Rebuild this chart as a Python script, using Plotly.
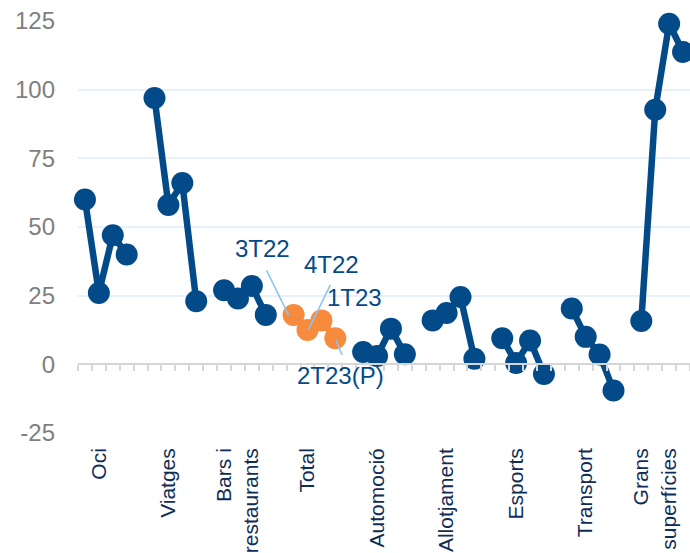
import plotly.graph_objects as go

# Sectors (x-axis groups) and the four quarters plotted within each group
categories = ["Oci", "Viatges", "Bars i<br>restaurants", "Total", "Automoció",
              "Allotjament", "Esports", "Transport", "Grans<br>superfícies"]
quarters = ["3T22", "4T22", "1T23", "2T23(P)"]

# Year-on-year change (%) per sector and quarter
oci = [60, 26, 47, 40]
viatges = [97, 58, 66, 23]
bars_restaurants = [27, 24, 28.5, 18]
total = [18, 12.5, 16, 9.5]
automocio = [4.5, 3, 13, 3.7]
allotjament = [16, 18.7, 24.5, 2]
esports = [9.5, 0.5, 8.7, -3.5]
transport = [20.3, 10, 3.6, -9.5]
grans_superficies = [15.8, 92.7, 124, 113.7]

series = [oci, viatges, bars_restaurants, total, automocio,
          allotjament, esports, transport, grans_superficies]

y_ticks = [-25, 0, 25, 50, 75, 100, 125]
y_tick_text = ["-25", "0", "25", "50", "75", "100", "125"]

BLUE = "#034a88"
ORANGE = "#f68a3d"
NAVY = "#0f2d56"
LEADER = "#8cc4f2"
GRID = "#e8f1fb"
FONT = "Liberation Sans, Arial, sans-serif"

group_size = len(quarters) + 1  # four quarters plus a blank slot between groups
n_slots = len(categories) * group_size - 1

fig = go.Figure()

for g, (name, vals) in enumerate(zip(categories, series)):
    xs = [g * group_size + q for q in range(len(quarters))]
    color = ORANGE if name == "Total" else BLUE
    fig.add_trace(go.Scatter(
        x=xs, y=vals, mode="lines+markers",
        line=dict(color=color, width=6.5),
        marker=dict(color=color, size=22),
        cliponaxis=False, showlegend=False,
        name=name.replace("<br>", " "),
        text=quarters, hovertemplate="%{text}: %{y}<extra></extra>",
    ))

# carrier trace for the zero-level category axis with its slot ticks
fig.add_trace(go.Scatter(x=[-0.5, n_slots - 0.5], y=[0, 0], xaxis="x2",
                         mode="lines", line=dict(width=0), hoverinfo="skip",
                         showlegend=False))

# quarter labels around the Total series
tot_idx = categories.index("Total")
tx = [tot_idx * group_size + q for q in range(len(quarters))]

leaders = [  # (tail x, tail y, head x, head y)
    (tx[0] - 2.0, total[0] + 16.8, tx[0] - 0.35, total[0] - 0.2),
    (tx[1] + 1.7, total[1] + 17.0, tx[1] + 0.05, total[1]),
    (tx[3], total[3], tx[3] + 0.48, total[3] - 6.1),
]
for x0, y0, x1, y1 in leaders:
    fig.add_annotation(x=x1, y=y1, ax=x0, ay=y0, xref="x", yref="y",
                       axref="x", ayref="y", text="", showarrow=True,
                       arrowhead=0, arrowwidth=1.6, arrowcolor=LEADER,
                       standoff=0, startstandoff=0)

label_pos = [(tx[0] - 2.2, 42.0), (tx[1] + 1.7, 36.5),
             (tx[2] + 2.4, 24.5), (tx[3] + 0.35, -3.9)]
for q, (lx, ly) in zip(quarters, label_pos):
    fig.add_annotation(x=lx, y=ly, text=q, showarrow=False,
                       font=dict(family=FONT, size=24, color=BLUE),
                       xanchor="center", yanchor="middle")

label_slots = [g * group_size + 1 for g in range(len(categories))]

fig.update_layout(
    width=690, height=553,
    margin=dict(l=78, r=0, t=21, b=120),
    paper_bgcolor="white", plot_bgcolor="white",
    font=dict(family=FONT),
    xaxis=dict(range=[-0.5, n_slots - 0.5], showgrid=False, zeroline=False,
               showline=False, ticks="", tickmode="array",
               tickvals=label_slots, ticktext=categories, tickangle=-90,
               tickfont=dict(family=FONT, size=21, color=NAVY),
               ticklabelstandoff=10, automargin=False),
    xaxis2=dict(range=[-0.5, n_slots - 0.5], overlaying="x", anchor="free",
                position=(0 - y_ticks[0]) / (y_ticks[-1] - y_ticks[0]),
                side="bottom", showgrid=False, zeroline=False,
                showline=True, linecolor="#d6d6d6", linewidth=2,
                ticks="outside", ticklen=6, tickwidth=1.5, tickcolor="#d6d6d6",
                tickmode="array",
                tickvals=[i - 0.5 for i in range(n_slots + 1)],
                showticklabels=False),
    yaxis=dict(range=[y_ticks[0], y_ticks[-1]], tickmode="array",
               tickvals=y_ticks, ticktext=y_tick_text,
               showgrid=True, gridcolor=GRID, gridwidth=1.5,
               zeroline=False, showline=False, ticks="",
               tickfont=dict(family=FONT, size=24, color="#7f7f7f"),
               ticklabelstandoff=22, automargin=False),
)

fig.write_html("out.html")
